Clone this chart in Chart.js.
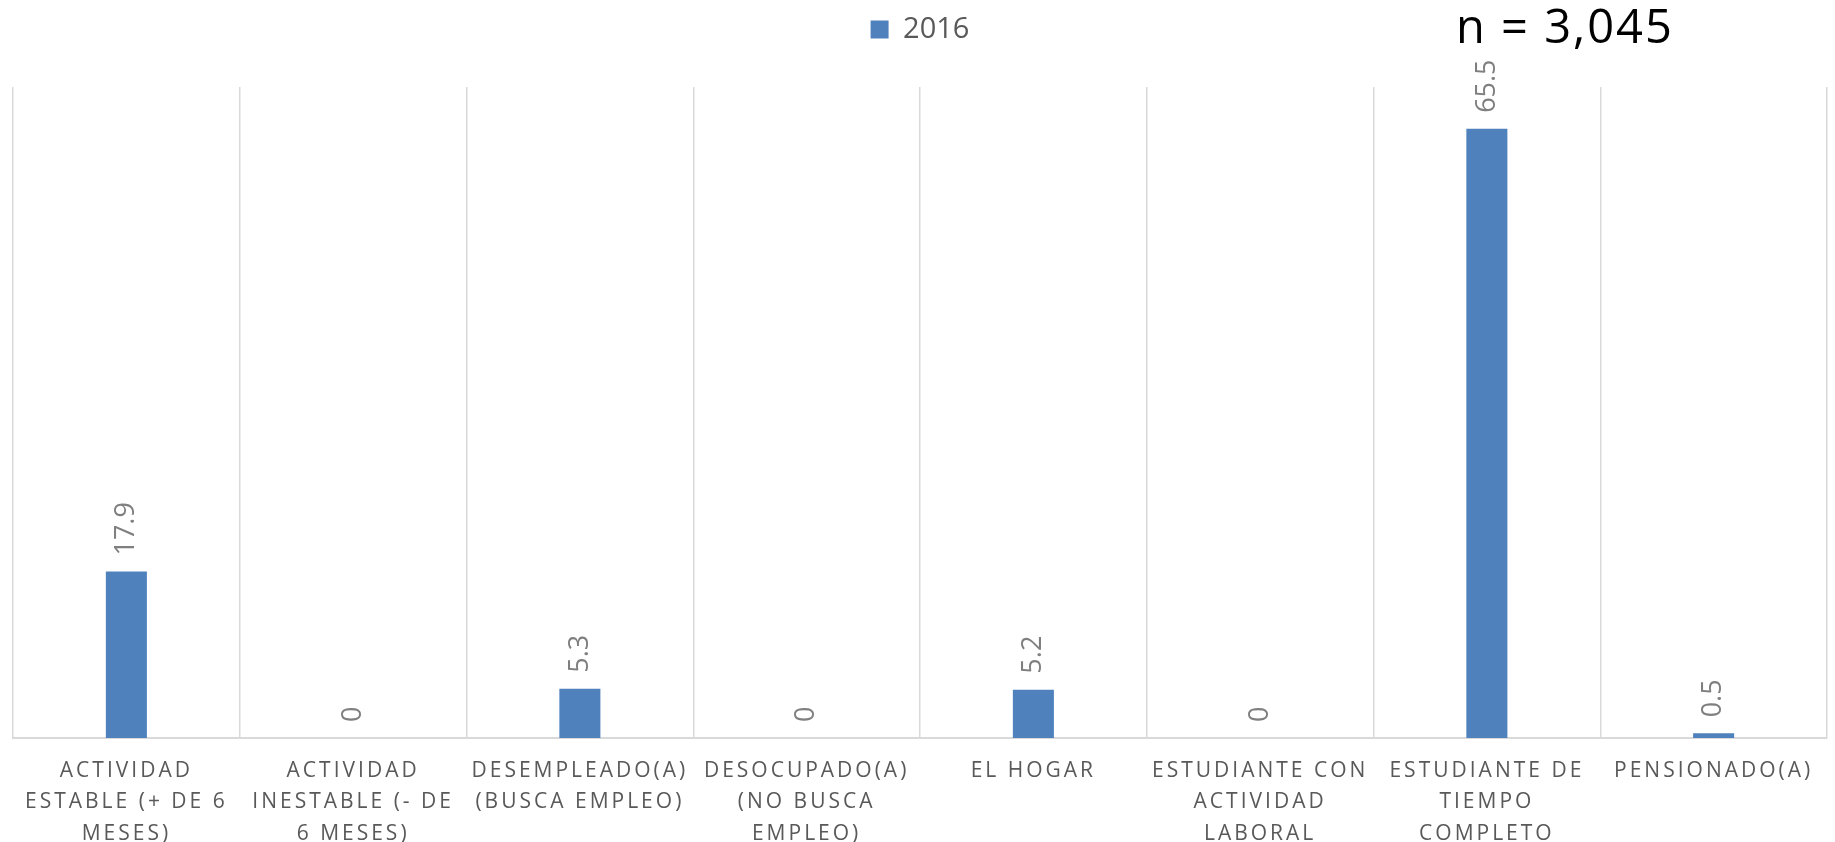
<!DOCTYPE html>
<html>
<head>
<meta charset="utf-8">
<script src="https://cdn.jsdelivr.net/npm/chart.js@4.4.1/dist/chart.umd.min.js"></script>
<style>
  html, body { margin: 0; padding: 0; background: #ffffff; }
  #wrap { width: 1835px; height: 842px; position: relative; }
</style>
</head>
<body>
<div id="wrap"><canvas id="c"></canvas></div>
<script>
// ---- data ----
const categories = [
  ['ACTIVIDAD', 'ESTABLE (+ DE 6', 'MESES)'],
  ['ACTIVIDAD', 'INESTABLE (- DE', '6 MESES)'],
  ['DESEMPLEADO(A)', '(BUSCA EMPLEO)'],
  ['DESOCUPADO(A)', '(NO BUSCA', 'EMPLEO)'],
  ['EL HOGAR'],
  ['ESTUDIANTE CON', 'ACTIVIDAD', 'LABORAL'],
  ['ESTUDIANTE DE', 'TIEMPO', 'COMPLETO'],
  ['PENSIONADO(A)']
];
const seriesName = '2016';
const values2016 = [17.9, 0, 5.3, 0, 5.2, 0, 65.5, 0.5];
const sampleNote = 'n = 3,045';
const yMin = 0;
const yMax = 70;

// ---- styling ----
const BAR_COLOR = '#4f81bd';
const GRID_COLOR = '#d9d9d9';
const TICK_COLOR = '#595959';
const LABEL_COLOR = '#7f7f7f';
const FONT = "'Open Sans', 'Liberation Sans', sans-serif";

// plugin: legend spacing + letter spacing control + rotated value labels + sample note
const customPlugin = {
  id: 'customPlugin',
  beforeLayout(chart) {
    const lg = chart.legend;
    if (lg && !lg._patched) {
      const origFit = lg.fit.bind(lg);
      lg.fit = function () {
        origFit();
        if (this.isHorizontal()) this.height = 87;
      };
      const origDraw = lg.draw.bind(lg);
      lg.draw = function (a) {
        const ctx = this.ctx;
        const prev = ctx.letterSpacing;
        ctx.letterSpacing = '0px';
        origDraw(a);
        ctx.letterSpacing = prev;
      };
      lg._patched = true;
    }
  },
  beforeDraw(chart) {
    chart.ctx.letterSpacing = '3px';
  },
  beforeDatasetsDraw(chart) {
    chart.ctx.letterSpacing = '0px';
  },
  afterDatasetsDraw(chart) {
    const ctx = chart.ctx;
    const meta = chart.getDatasetMeta(0);
    const data = chart.data.datasets[0].data;
    ctx.save();
    ctx.letterSpacing = '0px';
    ctx.font = "27px " + FONT;
    ctx.fillStyle = LABEL_COLOR;
    ctx.textAlign = 'left';
    ctx.textBaseline = 'middle';
    meta.data.forEach((bar, i) => {
      ctx.save();
      ctx.translate(bar.x, bar.y - 16);
      ctx.rotate(-Math.PI / 2);
      ctx.fillText(String(data[i]), 0, 0);
      ctx.restore();
    });
    ctx.restore();
  },
  afterDraw(chart) {
    const ctx = chart.ctx;
    const a = chart.chartArea;
    ctx.save();
    ctx.letterSpacing = '2px';
    ctx.font = "47px " + FONT;
    ctx.fillStyle = '#000000';
    ctx.textAlign = 'left';
    ctx.textBaseline = 'middle';
    ctx.fillText(sampleNote, a.left + (a.right - a.left) * 0.7955, 30);
    ctx.restore();
  }
};

new Chart(document.getElementById('c'), {
  type: 'bar',
  data: {
    labels: categories,
    datasets: [{
      label: seriesName,
      data: values2016,
      backgroundColor: BAR_COLOR,
      borderColor: BAR_COLOR,
      borderWidth: 0,
      categoryPercentage: 1.0,
      barPercentage: 0.181
    }]
  },
  options: {
    responsive: true,
    maintainAspectRatio: false,
    animation: false,
    layout: { padding: { left: 13, right: 8, top: 0, bottom: 0 } },
    plugins: {
      legend: {
        display: true,
        position: 'top',
        align: 'center',
        labels: {
          boxWidth: 18,
          boxHeight: 18,
          padding: 15,
          color: TICK_COLOR,
          font: { family: FONT, size: 29 }
        }
      },
      tooltip: { enabled: false },
      title: { display: false }
    },
    scales: {
      x: {
        offset: true,
        grid: {
          display: true,
          offset: true,
          color: GRID_COLOR,
          lineWidth: 1.5,
          drawTicks: false
        },
        border: { display: true, color: GRID_COLOR, width: 2 },
        ticks: {
          color: TICK_COLOR,
          font: { family: FONT, size: 21, lineHeight: 1.5 },
          padding: 17,
          autoSkip: false,
          maxRotation: 0,
          minRotation: 0
        },
        afterFit(scale) { scale.height = 104; }
      },
      y: {
        display: false,
        min: yMin,
        max: yMax
      }
    }
  },
  plugins: [customPlugin]
});
</script>
</body>
</html>
